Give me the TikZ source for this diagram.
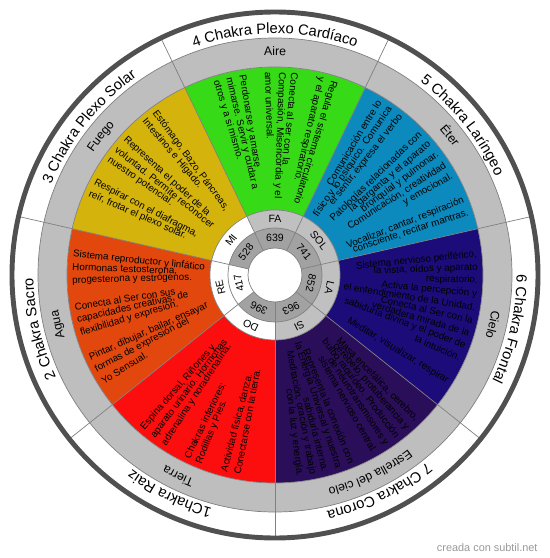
\documentclass[tikz,border=0pt]{standalone}
\usepackage{fontspec}
\setmainfont{Liberation Sans}
\usetikzlibrary{decorations.text}

\definecolor{aire}{RGB}{54,218,22}
\definecolor{eter}{RGB}{12,138,190}
\definecolor{cielo}{RGB}{28,12,122}
\definecolor{estrella}{RGB}{42,14,90}
\definecolor{tierra}{RGB}{252,14,14}
\definecolor{agua}{RGB}{226,72,14}
\definecolor{fuego}{RGB}{212,180,12}
\definecolor{ringgray}{RGB}{190,190,190}
\definecolor{notegray}{RGB}{192,192,192}
\definecolor{numgray}{RGB}{162,162,162}
\definecolor{linegray}{RGB}{128,128,128}
\definecolor{rimgray}{RGB}{80,80,80}

\protected\def\chakrafont{\fontsize{21}{25}\selectfont}
\protected\def\elemfont{\fontsize{17.5}{21}\selectfont}

\tikzset{
  outtxt/.style={anchor=east, inner sep=0pt, font=\fontsize{14}{16}\selectfont},
  intxt/.style={anchor=west, inner sep=0pt, font=\fontsize{14}{16}\selectfont},
  notelabel/.style={inner sep=0pt, font=\fontsize{15}{17}\selectfont},
  sepline/.style={linegray, line width=1pt}
}

\begin{document}
\begin{tikzpicture}[x=0.05cm, y=0.05cm]
\useasboundingbox (-275,-283) rectangle (275,275);

% sectores
\foreach \c/\col in {90/aire, 38.571/eter, -12.857/cielo, -64.286/estrella, -115.714/tierra, -167.143/agua, 141.429/fuego}
  \fill[fill=\col] (\c+25.714:65) arc[start angle=\c+25.714, end angle=\c-25.714, radius=65]
    -- (\c-25.714:208) arc[start angle=\c-25.714, end angle=\c+25.714, radius=208] -- cycle;
\fill[ringgray, even odd rule] (0,0) circle[radius=237] circle[radius=208];

% notas y frecuencias
\foreach \c/\nt/\ncol/\num/\mcol in {90/FA/notegray/639/numgray, 38.571/SOL/notegray/741/numgray, -12.857/LA/notegray/852/numgray, -64.286/SI/notegray/963/numgray, -115.714/DO/white/396/numgray, -167.143/RE/white/417/white, 141.429/MI/white/528/numgray}{
  \fill[fill=\ncol] (\c+25.714:47) arc[start angle=\c+25.714, end angle=\c-25.714, radius=47]
    -- (\c-25.714:65) arc[start angle=\c-25.714, end angle=\c+25.714, radius=65] -- cycle;
  \fill[fill=\mcol] (\c+25.714:27) arc[start angle=\c+25.714, end angle=\c-25.714, radius=27]
    -- (\c-25.714:47) arc[start angle=\c-25.714, end angle=\c+25.714, radius=47] -- cycle;
  \node[notelabel, rotate=\c-90] (nota\nt) at (\c:56) {\nt};
  \node[notelabel, rotate=\c-90] (hz\num) at (\c:37) {\num};
}

\draw[sepline] (0,0) circle[radius=27] circle[radius=47] circle[radius=65] circle[radius=208] circle[radius=237];
\foreach \b in {64.286, 12.857, -38.571, -90, -141.429, 167.143, 115.714}
  \draw[sepline] (\b:27) -- (\b:261);
\draw[rimgray, line width=7pt] (0,0) circle[radius=263];

% textos de cada chakra
\foreach \pos/\txt in {0/{Regula el sistema circulatorio}, 1/{y el aparato respiratorio.}, 3/{Conecta al ser con la}, 4/{Compasión, Misericordia y el}, 5/{amor universal.}, 7/{Perdonarse y amarse}, 8/{mimarse. Servir y cuidar a}, 9/{otros y a si mismo.}}{
  \pgfmathsetmacro\ang{90+(\pos-4.5)*3.75}
  \node[intxt, rotate=\ang+180] (aire\pos) at (\ang:203) {\txt};
}
\foreach \pos/\txt in {0/{Comunicación entre lo}, 1/{físico y lo psíquico. Comunica}, 2/{el sentir, expresa el verbo}, 4/{Patologías relacionadas con}, 5/{la garganta y el aparato}, 6/{bronquial y pulmonar.}, 7/{Comunicación, creatividad}, 8/{y emocional.}, 10/{Vocalizar, cantar, respiración}, 11/{consciente, recitar mantras.}}{
  \pgfmathsetmacro\ang{38.571-(\pos-5.5)*3.75}
  \node[outtxt, rotate=\ang] (eter\pos) at (\ang:203) {\txt};
}
\foreach \pos/\txt in {0/{Sistema nervioso periférico,}, 1/{la vista, oídos y aparato}, 2/{respiratorio.}, 3/{Activa la percepción y}, 4/{el entendimiento de la Unidad.}, 5/{Conecta al Ser con la}, 6/{verdadera mirada de la}, 7/{sabiduría divina y el poder de}, 8/{la intuición.}, 10/{Meditar, visualizar, respirar}}{
  \pgfmathsetmacro\ang{-12.857-(\pos-5)*3.75}
  \node[outtxt, rotate=\ang] (cielo\pos) at (\ang:203) {\txt};
}
\foreach \pos/\txt in {0/{Masa encefálica, cerebro,}, 1/{cerebelo, protuberancia y}, 2/{bulbo raquídeo. Producción}, 3/{de neurotransmisores y}, 4/{sistema nervioso central.}, 6/{Representa la conexión con}, 7/{la Energía Universal y nuestra}, 8/{sabiduría interna.}, 9/{Meditación, oración y trabajo}, 10/{con la luz y energía.}}{
  \pgfmathsetmacro\ang{-64.286-(\pos-5)*3.75}
  \node[outtxt, rotate=\ang] (estrella\pos) at (\ang:203) {\txt};
}
\foreach \pos/\txt in {0/{Espina dorsal, Riñones y}, 1/{aparato urinario. Hormonas}, 2/{adrenalina y noradrenalina.}, 4/{Chakras inferiores:}, 5/{Rodillas y Pies.}, 7/{Actividad física, danza.}, 8/{Conectarse con la tierra.}}{
  \pgfmathsetmacro\ang{-115.714+(\pos-4)*3.75}
  \node[intxt, rotate=\ang+180] (tierra\pos) at (\ang:203) {\txt};
}
\foreach \pos/\txt in {0/{Sistema reproductor y linfático}, 1/{Hormonas testosterona,}, 2/{progesterona y estrógenos.}, 4/{Conecta al Ser con sus}, 5/{capacidades creativas, de}, 6/{flexibilidad y expresión.}, 8/{Pintar, dibujar, bailar, ensayar}, 9/{formas de expresión del}, 10/{Yo Sensual.}}{
  \pgfmathsetmacro\ang{192.857+(\pos-5)*3.75}
  \node[intxt, rotate=\ang+180] (agua\pos) at (\ang:203) {\txt};
}
\foreach \pos/\txt in {0/{Estómago, Bazo, Páncreas,}, 1/{Intestinos e Hígado.}, 3/{Representa el poder de la}, 4/{voluntad. Permite reconocer}, 5/{nuestro potencial.}, 7/{Respirar con el diafragma,}, 8/{reír, frotar el plexo solar.}}{
  \pgfmathsetmacro\ang{141.429+(\pos-4)*3.75}
  \node[intxt, rotate=\ang+180] (fuego\pos) at (\ang:203) {\txt};
}

% elementos y nombres
\foreach \c/\txt in {90/Aire, 38.571/Éter, -12.857/Cielo, -64.286/Estrella del cielo, -115.714/Tierra, -167.143/Agua, 141.429/Fuego}
  \path[decorate, decoration={text along path, text/.expanded={|\elemfont|\txt}, text align=center}]
    (\c+25:219.5) arc[start angle=\c+25, end angle=\c-25, radius=219.5];
\foreach \c/\txt in {90/4 Chakra Plexo Cardíaco, 38.571/5 Chakra Laríngeo, -12.857/6 Chakra Frontal, -64.286/7 Chakra Corona, -115.714/1Chakra Raiz, -167.143/2 Chakra Sacro, 141.429/3 Chakra Plexo Solar}
  \path[decorate, decoration={text along path, text/.expanded={|\chakrafont|\txt}, text align=center}]
    (\c+25:241.5) arc[start angle=\c+25, end angle=\c-25, radius=241.5];

\node[anchor=east, text=black!40, font=\fontsize{15.5}{18}\selectfont] (marca) at (265,-273) {creada con subtil.net};
\end{tikzpicture}
\end{document}
